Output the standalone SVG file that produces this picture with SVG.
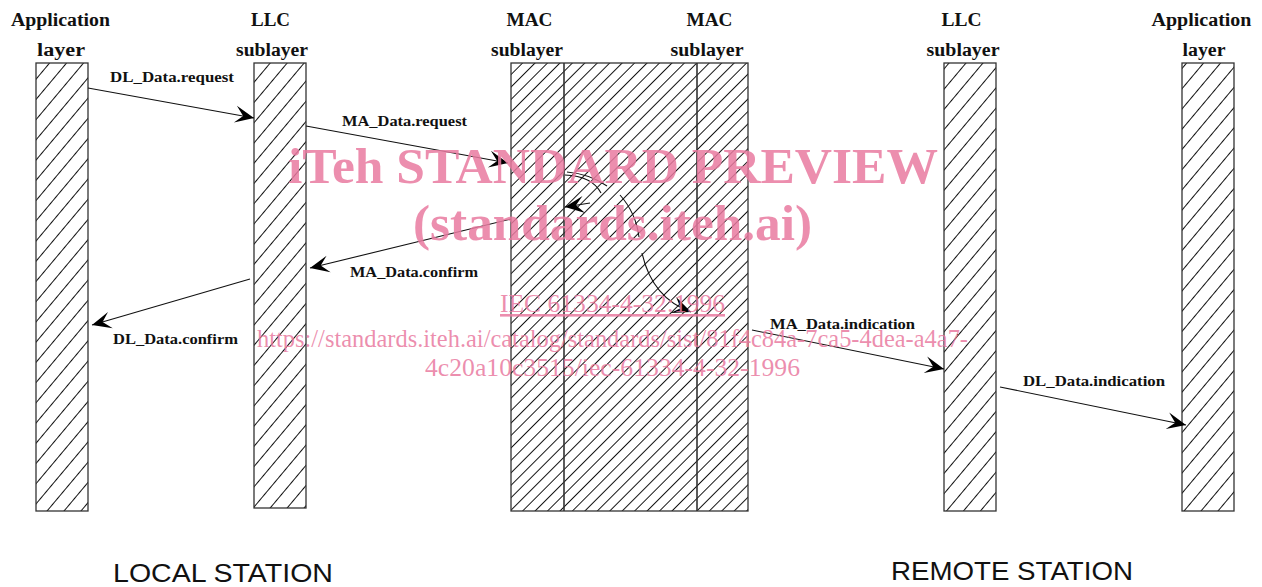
<svg xmlns="http://www.w3.org/2000/svg" width="1262" height="587" viewBox="0 0 1262 587">
<style>
.hdr{font-family:"Liberation Serif","Times New Roman",serif;font-weight:bold;font-size:18px;fill:#111;text-anchor:middle}
.lbl{font-family:"Liberation Serif","Times New Roman",serif;font-weight:bold;font-size:14px;fill:#111}
.stn{font-family:"Liberation Sans",Arial,sans-serif;font-size:25px;fill:#111}
.box{stroke:#333;stroke-width:1.3}
.conn{fill:none;stroke:#111;stroke-width:1.1}
.wm{font-family:"Liberation Serif","Times New Roman",serif;fill:#e97aa0;fill-opacity:0.85}
</style>
<defs>
<pattern id="hatchA" patternUnits="userSpaceOnUse" width="20" height="13" patternTransform="rotate(-50)">
<line x1="0" y1="0.5" x2="20" y2="0.5" stroke="#111" stroke-width="1"/>
</pattern>
<pattern id="hatchM" patternUnits="userSpaceOnUse" width="20" height="8.8" patternTransform="rotate(-45)">
<line x1="0" y1="0.5" x2="20" y2="0.5" stroke="#111" stroke-width="1"/>
</pattern>
<marker id="arr" markerUnits="userSpaceOnUse" markerWidth="22" markerHeight="20" viewBox="-21 -10 22 20" refX="0" refY="0" orient="auto">
<path d="M0,0 L-19,-9 L-11,0 L-19,8 Z" fill="#000"/>
</marker>
</defs>
<rect width="1262" height="587" fill="#fff"/>

<g id="app-left">
<rect x="36" y="63" width="52" height="448" fill="url(#hatchA)" class="box"/>
<text class="hdr" x="60.5" y="26" textLength="99" lengthAdjust="spacingAndGlyphs">Application</text>
<text class="hdr" x="61" y="56" textLength="48" lengthAdjust="spacingAndGlyphs">layer</text>
</g>
<g id="llc-left">
<rect x="254" y="63" width="52" height="445" fill="url(#hatchA)" class="box"/>
<text class="hdr" x="270.5" y="26" textLength="39" lengthAdjust="spacingAndGlyphs">LLC</text>
<text class="hdr" x="272" y="56" textLength="72" lengthAdjust="spacingAndGlyphs">sublayer</text>
</g>
<g id="mac">
<rect x="511" y="63" width="237" height="448" fill="url(#hatchM)" class="box"/>
<line x1="564" y1="63" x2="564" y2="511" stroke="#333" stroke-width="1.6"/>
<line x1="697" y1="63" x2="697" y2="511" stroke="#333" stroke-width="1.6"/>
<text class="hdr" x="529.5" y="26" textLength="46" lengthAdjust="spacingAndGlyphs">MAC</text>
<text class="hdr" x="527" y="56" textLength="72" lengthAdjust="spacingAndGlyphs">sublayer</text>
<text class="hdr" x="709.5" y="26" textLength="46" lengthAdjust="spacingAndGlyphs">MAC</text>
<text class="hdr" x="707" y="56" textLength="73" lengthAdjust="spacingAndGlyphs">sublayer</text>
</g>
<g id="llc-right">
<rect x="944" y="63" width="52" height="448" fill="url(#hatchA)" class="box"/>
<text class="hdr" x="961.5" y="26" textLength="40" lengthAdjust="spacingAndGlyphs">LLC</text>
<text class="hdr" x="963" y="56" textLength="73" lengthAdjust="spacingAndGlyphs">sublayer</text>
</g>
<g id="app-right">
<rect x="1182" y="63" width="52" height="448" fill="url(#hatchA)" class="box"/>
<text class="hdr" x="1201.5" y="26" textLength="100" lengthAdjust="spacingAndGlyphs">Application</text>
<text class="hdr" x="1204" y="56" textLength="43" lengthAdjust="spacingAndGlyphs">layer</text>
</g>

<g id="connectors">
<line class="conn" x1="88" y1="88" x2="254" y2="118" marker-end="url(#arr)"/>
<line class="conn" x1="306" y1="126" x2="508" y2="163" marker-end="url(#arr)"/>
<line class="conn" x1="511" y1="219" x2="310" y2="268" marker-end="url(#arr)"/>
<line class="conn" x1="250" y1="279" x2="92" y2="325" marker-end="url(#arr)"/>
<line class="conn" x1="752" y1="330" x2="944" y2="369" marker-end="url(#arr)"/>
<line class="conn" x1="1000" y1="387" x2="1186" y2="425" marker-end="url(#arr)"/>
<path class="conn" d="M565,175 Q592,176 601,193"/>
<path class="conn" d="M567,172 Q590,174 607,186"/>
<path class="conn" d="M620,195 Q636,213 639,237"/>
<line class="conn" x1="590" y1="203" x2="565" y2="207" marker-end="url(#arr)"/>
<path class="conn" d="M642,253 Q652,298 691,312" marker-end="url(#arr)"/>
</g>

<g id="labels">
<text class="lbl" x="110" y="82" textLength="124" lengthAdjust="spacingAndGlyphs">DL_Data.request</text>
<text class="lbl" x="342" y="126" textLength="125" lengthAdjust="spacingAndGlyphs">MA_Data.request</text>
<text class="lbl" x="350" y="277" textLength="128" lengthAdjust="spacingAndGlyphs">MA_Data.confirm</text>
<text class="lbl" x="113" y="344" textLength="125" lengthAdjust="spacingAndGlyphs">DL_Data.confirm</text>
<text class="lbl" x="770" y="329" textLength="145" lengthAdjust="spacingAndGlyphs">MA_Data.indication</text>
<text class="lbl" x="1023" y="386" textLength="142" lengthAdjust="spacingAndGlyphs">DL_Data.indication</text>
<text class="stn" x="113" y="582" textLength="220" lengthAdjust="spacingAndGlyphs">LOCAL STATION</text>
<text class="stn" x="891" y="580" textLength="242" lengthAdjust="spacingAndGlyphs">REMOTE STATION</text>
</g>

<g id="watermark">
<text class="wm" x="288" y="183" font-size="51" font-weight="bold" textLength="650" lengthAdjust="spacingAndGlyphs">iTeh STANDARD PREVIEW</text>
<text class="wm" x="413" y="240" font-size="51" font-weight="bold" textLength="399" lengthAdjust="spacingAndGlyphs">(standards.iteh.ai)</text>
<text class="wm" x="500" y="312" font-size="26" textLength="225" lengthAdjust="spacingAndGlyphs" text-decoration="underline">IEC 61334-4-32:1996</text>
<text class="wm" x="257" y="347" font-size="26" textLength="711" lengthAdjust="spacingAndGlyphs">https://standards.iteh.ai/catalog/standards/sist/81f4c84a-7ca5-4dea-a4a7-</text>
<text class="wm" x="425" y="376" font-size="26" textLength="375" lengthAdjust="spacingAndGlyphs">4c20a10c3515/iec-61334-4-32-1996</text>
</g>
</svg>
